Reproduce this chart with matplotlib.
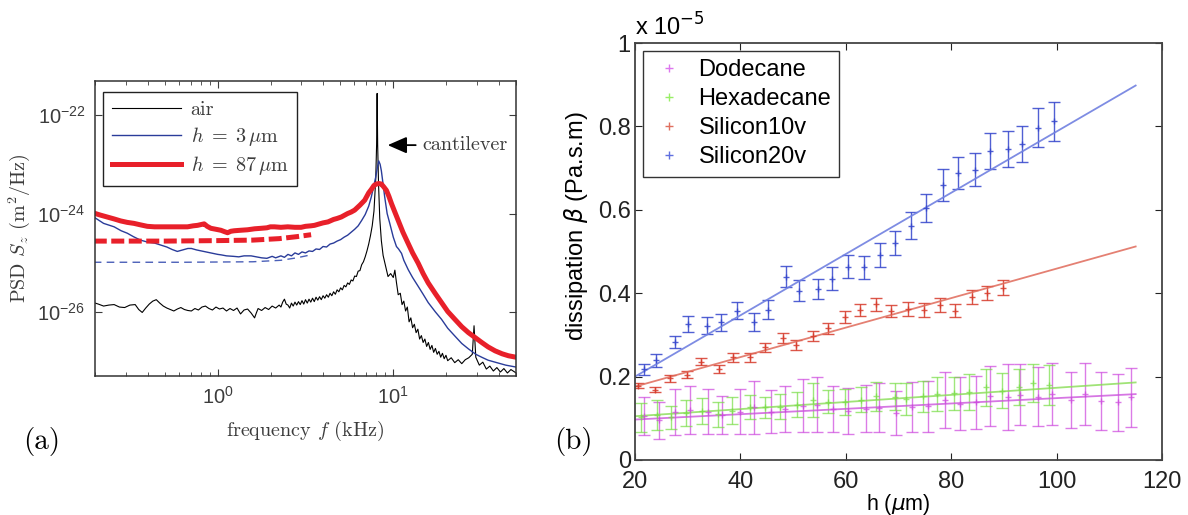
import numpy as np
import matplotlib.pyplot as plt
from matplotlib.lines import Line2D
from matplotlib.ticker import NullLocator, FixedLocator

plt.rcParams['mathtext.fontset'] = 'cm'
plt.rcParams['font.family'] = ['Liberation Sans', 'DejaVu Sans']

# ---------------- panel (a): PSD spectra, log10 values
# frequency in kHz (log10), PSD in m^2/Hz (log10)
air_logf = [-0.706, -0.68, -0.65, -0.62, -0.59, -0.56, -0.53, -0.50, -0.47, -0.45, -0.43, -0.41, -0.39,
            -0.37, -0.35, -0.33, -0.31, -0.29, -0.27, -0.25, -0.23, -0.21, -0.19, -0.17, -0.15, -0.13,
            -0.11, -0.09, -0.07, -0.05, -0.03, -0.01, 0.01, 0.03, 0.05, 0.07, 0.09, 0.11, 0.13, 0.15,
            0.17, 0.19, 0.21, 0.22, 0.23, 0.25, 0.27, 0.29, 0.31, 0.33, 0.35, 0.36, 0.37, 0.38, 0.39,
            0.40, 0.41, 0.42, 0.43, 0.44, 0.45, 0.46, 0.47, 0.48, 0.49, 0.50, 0.51, 0.52, 0.53, 0.54,
            0.55, 0.56, 0.57, 0.58, 0.59, 0.60, 0.61, 0.62, 0.63, 0.64, 0.65, 0.66, 0.67, 0.68, 0.69,
            0.70, 0.71, 0.72, 0.73, 0.74, 0.75, 0.76, 0.77, 0.78, 0.79, 0.80, 0.81, 0.82, 0.83, 0.84,
            0.85, 0.86, 0.87, 0.88, 0.89, 0.90, 0.905, 0.908, 0.911, 0.916, 0.923, 0.932, 0.942, 0.955,
            0.97, 0.985, 1.00, 1.009, 1.018, 1.028, 1.04, 1.05, 1.06, 1.07, 1.08, 1.09, 1.10, 1.11,
            1.12, 1.13, 1.14, 1.15, 1.16, 1.17, 1.18, 1.19, 1.20, 1.21, 1.22, 1.23, 1.24, 1.25, 1.26,
            1.27, 1.28, 1.29, 1.30, 1.31, 1.33, 1.35, 1.37, 1.39, 1.41, 1.43, 1.45, 1.46, 1.47, 1.49,
            1.51, 1.53, 1.55, 1.57, 1.59, 1.61, 1.63, 1.65, 1.67, 1.70]
air_logS = [-25.81, -25.84, -25.88, -25.86, -25.85, -25.90, -25.91, -25.86, -25.85, -25.95, -26.01, -25.92,
            -25.84, -25.78, -25.75, -25.82, -25.88, -25.92, -25.95, -25.98, -25.94, -25.91, -25.95, -25.97,
            -25.98, -25.93, -25.96, -25.90, -25.88, -25.93, -25.96, -25.90, -25.94, -25.92, -25.98, -25.93,
            -25.97, -25.92, -26.04, -25.96, -25.94, -26.02, -26.12, -26.02, -25.93, -25.97, -25.91, -25.95,
            -25.88, -25.92, -25.86, -25.90, -25.80, -25.74, -25.84,
            -25.86, -25.92, -25.82, -25.88, -25.80, -25.86, -25.79, -25.85, -25.77, -25.84, -25.75, -25.82,
            -25.74, -25.80, -25.72, -25.79, -25.70, -25.76, -25.69, -25.75, -25.67, -25.72, -25.65, -25.70,
            -25.62, -25.67, -25.59, -25.64, -25.55, -25.59, -25.51, -25.55, -25.46, -25.49, -25.41, -25.44,
            -25.35, -25.37, -25.27, -25.28, -25.17, -25.16, -25.04, -24.98, -24.88, -24.76, -24.62, -24.45,
            -24.25, -23.95, -23.30, -22.60, -21.56, -22.60, -23.40, -24.10, -24.55, -24.85, -25.05, -25.28,
            -25.22, -25.30, -25.15, -25.40, -25.65, -25.62, -25.85, -25.78, -25.98, -25.90, -26.20, -26.12,
            -26.32, -26.25, -26.42, -26.35, -26.55, -26.48, -26.62, -26.55, -26.70, -26.62, -26.76, -26.68,
            -26.82, -26.74, -26.86, -26.80, -26.92, -26.84, -26.95, -26.88, -26.99, -26.93, -27.03, -26.97,
            -27.05, -26.97, -26.93, -26.86, -26.28, -26.92, -27.08, -27.02, -27.16, -27.10, -27.20, -27.13,
            -27.22, -27.15, -27.24, -27.17, -27.24]

h3_logf = [-0.706, -0.65, -0.59, -0.55, -0.515, -0.48, -0.44, -0.40, -0.36, -0.325, -0.29, -0.26, -0.23,
           -0.20, -0.17, -0.15, -0.12, -0.08, -0.04, 0.00, 0.02, 0.05, 0.09, 0.12, 0.15, 0.19, 0.22, 0.25,
           0.28, 0.31, 0.33, 0.36, 0.38, 0.40, 0.42, 0.44, 0.46, 0.48, 0.50, 0.52, 0.54, 0.56, 0.58, 0.60,
           0.62, 0.64, 0.66, 0.68, 0.70, 0.72, 0.74, 0.76, 0.78, 0.80, 0.82, 0.84, 0.86, 0.875, 0.89, 0.90,
           0.91, 0.917, 0.925, 0.932, 0.94, 0.951, 0.965, 0.98, 1.00, 1.018, 1.03, 1.047, 1.06, 1.085, 1.11,
           1.142, 1.17, 1.199, 1.24, 1.275, 1.31, 1.351, 1.39, 1.428, 1.47, 1.504, 1.54, 1.58, 1.64, 1.70]
h3_logS = [-24.07, -24.20, -24.27, -24.35, -24.40, -24.47, -24.54, -24.58, -24.60, -24.64, -24.68, -24.73,
           -24.77, -24.74, -24.71, -24.71, -24.74, -24.77, -24.80, -24.83, -24.84, -24.86, -24.87, -24.88,
           -24.86, -24.86, -24.88, -24.90, -24.91, -24.87, -24.90, -24.86, -24.89, -24.83, -24.86, -24.80,
           -24.83, -24.78, -24.80, -24.76, -24.77, -24.72, -24.73, -24.67, -24.68, -24.62, -24.60, -24.56,
           -24.53, -24.48, -24.44, -24.38, -24.32, -24.25, -24.14, -24.02, -23.85, -23.66, -23.42, -23.26,
           -23.05, -22.93, -23.00, -23.13, -23.35, -23.66, -24.00, -24.20, -24.48, -24.67, -24.72, -24.81,
           -24.95, -25.14, -25.30, -25.48, -25.64, -25.81, -26.00, -26.15, -26.33, -26.49, -26.64, -26.75,
           -26.86, -26.92, -26.98, -27.02, -27.08, -27.12]

h87_logf = [-0.706, -0.67, -0.63, -0.59, -0.553, -0.515, -0.477, -0.44, -0.401, -0.36, -0.325, -0.29,
            -0.249, -0.21, -0.172, -0.14, -0.115, -0.09, -0.077, -0.06, -0.039, -0.01, 0.018, 0.04, 0.056,
            0.075, 0.094, 0.13, 0.17, 0.21, 0.247, 0.28, 0.30, 0.323, 0.36, 0.399, 0.44, 0.475, 0.50, 0.53,
            0.551, 0.58, 0.60, 0.628, 0.66, 0.68, 0.704, 0.74, 0.76, 0.78, 0.81, 0.837, 0.86, 0.875, 0.89,
            0.904, 0.918, 0.932, 0.946, 0.961, 0.975, 0.99, 1.01, 1.028, 1.055, 1.085, 1.11, 1.142, 1.17,
            1.199, 1.24, 1.275, 1.31, 1.351, 1.39, 1.428, 1.47, 1.504, 1.54, 1.58, 1.62, 1.656, 1.70]
h87_logS = [-23.99, -24.03, -24.07, -24.11, -24.15, -24.18, -24.20, -24.23, -24.26, -24.27, -24.27, -24.27,
            -24.27, -24.27, -24.27, -24.25, -24.24, -24.22, -24.21, -24.26, -24.30, -24.32, -24.34, -24.37,
            -24.39, -24.36, -24.35, -24.34, -24.33, -24.31, -24.30, -24.29, -24.27, -24.27, -24.28, -24.27,
            -24.28, -24.28, -24.26, -24.25, -24.24, -24.21, -24.19, -24.17, -24.12, -24.10, -24.07, -24.00,
            -23.97, -23.93, -23.83, -23.73, -23.58, -23.51, -23.43, -23.40, -23.39, -23.40, -23.46, -23.53,
            -23.65, -23.80, -23.98, -24.14, -24.38, -24.61, -24.80, -25.01, -25.22, -25.41, -25.63, -25.81,
            -25.99, -26.15, -26.30, -26.42, -26.53, -26.62, -26.71, -26.79, -26.85, -26.89, -26.92]

# flat model levels (dashed)
fit87_logf = [-0.706, -0.3, 0.0, 0.2, 0.35, 0.45, 0.532]
fit87_logS = [-24.56, -24.56, -24.55, -24.54, -24.51, -24.47, -24.43]
fit3_logf = [-0.706, -0.2, 0.2, 0.36, 0.45, 0.53]
fit3_logS = [-24.99, -24.99, -24.98, -24.95, -24.90, -24.84]

# ---------------- panel (b): dissipation vs h (units of 1e-5 Pa.s.m)
dod_h = [21.8, 24.6, 27.6, 30.5, 33.8, 36.5, 39.9, 42.5, 45.8, 48.5, 51.9, 54.5, 57.6, 60.5, 63.9, 66.3,
         69.6, 72.5, 75.6, 78.8, 81.6, 84.7, 87.4, 90.7, 93.1, 96.5, 99.2, 102.7, 105.4, 108.4, 111.7, 114.2]
dod_b = [0.106, 0.095, 0.115, 0.120, 0.116, 0.108, 0.116, 0.126, 0.116, 0.123, 0.130, 0.133, 0.123, 0.117,
         0.123, 0.125, 0.113, 0.126, 0.129, 0.144, 0.135, 0.138, 0.154, 0.152, 0.157, 0.152, 0.158, 0.144,
         0.158, 0.141, 0.138, 0.150]
dod_err = [0.046, 0.045, 0.055, 0.058, 0.054, 0.046, 0.054, 0.064, 0.052, 0.055, 0.064, 0.065, 0.055, 0.055,
           0.057, 0.059, 0.053, 0.060, 0.061, 0.068, 0.063, 0.064, 0.072, 0.079, 0.073, 0.070, 0.074, 0.068,
           0.074, 0.069, 0.068, 0.070]

hex_h = [21.1, 24.2, 26.9, 29.7, 32.7, 35.7, 38.5, 41.8, 44.7, 47.5, 50.7, 53.8, 56.7, 59.8, 62.9, 65.8,
         69.3, 71.5, 74.6, 77.4, 80.6, 83.4, 86.6, 89.6, 92.9, 95.6, 98.6]
hex_b = [0.102, 0.108, 0.102, 0.113, 0.117, 0.110, 0.118, 0.127, 0.126, 0.128, 0.133, 0.143, 0.140, 0.140,
         0.144, 0.153, 0.152, 0.146, 0.153, 0.158, 0.160, 0.163, 0.174, 0.166, 0.175, 0.185, 0.180]
hex_err = [0.034, 0.036, 0.028, 0.031, 0.031, 0.030, 0.032, 0.029, 0.026, 0.030, 0.031, 0.041, 0.028, 0.031,
           0.030, 0.035, 0.032, 0.038, 0.037, 0.040, 0.040, 0.043, 0.044, 0.042, 0.043, 0.045, 0.048]

si10_h = [20.6, 23.8, 26.7, 29.9, 32.5, 36.0, 38.6, 41.9, 44.7, 48.0, 50.6, 53.8, 56.6, 59.9, 62.7, 65.8,
          68.6, 71.8, 74.8, 77.9, 80.8, 84.0, 86.7, 89.8]
si10_b = [0.178, 0.169, 0.196, 0.205, 0.236, 0.218, 0.246, 0.246, 0.270, 0.292, 0.275, 0.297, 0.316, 0.343,
          0.360, 0.373, 0.357, 0.362, 0.360, 0.371, 0.358, 0.390, 0.400, 0.413]
si10_err = [0.006, 0.007, 0.008, 0.008, 0.009, 0.009, 0.010, 0.010, 0.011, 0.012, 0.012, 0.012, 0.013, 0.014,
            0.015, 0.015, 0.015, 0.016, 0.016, 0.017, 0.016, 0.017, 0.017, 0.018]

si20_h = [21.7, 24.0, 27.6, 30.1, 33.6, 36.3, 39.4, 42.5, 45.2, 48.6, 51.2, 54.7, 57.3, 60.5, 63.4, 66.5,
          69.4, 72.4, 75.3, 78.5, 81.2, 84.6, 87.4, 90.7, 93.5, 96.5, 99.6]
si20_b = [0.218, 0.239, 0.283, 0.326, 0.322, 0.330, 0.358, 0.331, 0.360, 0.440, 0.406, 0.410, 0.435, 0.464,
          0.462, 0.492, 0.520, 0.562, 0.605, 0.660, 0.689, 0.696, 0.742, 0.746, 0.758, 0.797, 0.812]
si20_err = [0.013, 0.015, 0.015, 0.020, 0.020, 0.020, 0.021, 0.021, 0.023, 0.025, 0.025, 0.025, 0.027, 0.028,
            0.027, 0.029, 0.029, 0.032, 0.034, 0.038, 0.038, 0.040, 0.043, 0.043, 0.044, 0.046, 0.047]

# straight-line fits (end points)
fit_h = [20, 115]
dod_fit = [0.097, 0.158]
hex_fit = [0.105, 0.186]
si10_fit = [0.176, 0.512]
si20_fit = [0.200, 0.898]

y_ticks = [0, 0.2, 0.4, 0.6, 0.8, 1]
y_ticklabels = ['0', '0.2', '0.4', '0.6', '0.8', '1']
x_ticks = [20, 40, 60, 80, 100, 120]


def p10(v):
    return 10 ** np.asarray(v)


fig = plt.figure(figsize=(11.88, 5.15), dpi=100)
W, H = 1188, 515

# ---------------- (a)
gray = '#3c3c3c'
ax1 = fig.add_axes([95 / W, 1 - 376 / H, 421 / W, 295.3 / H])
ax1.plot(p10(air_logf), p10(air_logS), color='black', lw=0.8, label='air')
ax1.plot(p10(h3_logf), p10(h3_logS), color='#2a3c9a', lw=1.0, label=r'$h\;=\;3\,\mu$m')
ax1.plot(p10(h87_logf), p10(h87_logS), color='#e8202a', lw=3.6, label=r'$h\;=\;87\,\mu$m')
ax1.plot(p10(fit87_logf), p10(fit87_logS), color='#e8202a', lw=3.6, dashes=(2.6, 0.9))
ax1.plot(p10(fit3_logf), p10(fit3_logS), color='#4a5fb8', lw=1.0, dashes=(5.5, 3.8))

ax1.set_xscale('log')
ax1.set_yscale('log')
ax1.set_xlim(0.2, 50)
ax1.set_ylim(5e-28, 5e-22)
ax1.yaxis.set_major_locator(FixedLocator([1e-26, 1e-24, 1e-22]))
ax1.yaxis.set_minor_locator(NullLocator())
ax1.tick_params(which='both', direction='in', top=True, right=True, colors=gray, labelsize=14.5)
ax1.tick_params(which='major', length=5, pad=7)
ax1.tick_params(which='minor', length=3)
for s in ax1.spines.values():
    s.set_color('#333333')
    s.set_linewidth(1.1)

ax1.set_xlabel(r'frequency $f$ (kHz)', family='cmr10', fontsize=14.5, color=gray)
ax1.set_ylabel(r'PSD $S_z$ (m$^2$/Hz)', family='cmr10', fontsize=14.5, color=gray)
ax1.xaxis.set_label_coords(0.5, -0.145)
ax1.yaxis.set_label_coords(-0.150, 0.5)

leg1 = ax1.legend(loc='upper left', bbox_to_anchor=(0.019, 0.962), borderaxespad=0,
                  prop={'family': 'cmr10', 'size': 14.5}, handlelength=3.4, handletextpad=0.5,
                  fancybox=False, edgecolor='#222222', framealpha=1, labelspacing=0.3,
                  borderpad=0.45)
leg1.get_frame().set_linewidth(1.0)
for t in leg1.get_texts():
    t.set_color(gray)

ax1.annotate('cantilever', xy=(9.3, 10 ** -22.61), xytext=(14.7, 10 ** -22.61),
             va='center', ha='left', family='cmr10', fontsize=14.5, color=gray,
             arrowprops=dict(arrowstyle='-|>,head_length=0.8,head_width=0.35', color='black',
                             lw=1.3, shrinkA=3, shrinkB=0))

# ---------------- (b)
ax2 = fig.add_axes([635 / W, 1 - 460 / H, 527 / W, 417 / H])
ebkw = dict(fmt='+', markersize=5, elinewidth=1.0, capsize=4, capthick=1.0, mew=1.0)
ax2.errorbar(dod_h, dod_b, yerr=dod_err, color='#cc44dd', alpha=0.7, **ebkw)
ax2.errorbar(hex_h, hex_b, yerr=hex_err, color='#77dd44', alpha=0.7, **ebkw)
ax2.errorbar(si10_h, si10_b, yerr=si10_err, color='#d63a2a', alpha=0.85, **ebkw)
ax2.errorbar(si20_h, si20_b, yerr=si20_err, color='#3344cc', alpha=0.85, **ebkw)
ax2.plot(fit_h, dod_fit, color='#cc55dd', lw=1.3, alpha=0.8)
ax2.plot(fit_h, hex_fit, color='#88dd55', lw=1.3, alpha=0.8)
ax2.plot(fit_h, si10_fit, color='#e06a5a', lw=1.3, alpha=0.85)
ax2.plot(fit_h, si20_fit, color='#7080e0', lw=1.3, alpha=0.9)

ax2.set_xlim(20, 120)
ax2.set_ylim(0, 1)
ax2.set_xticks(x_ticks)
ax2.set_yticks(y_ticks)
ax2.set_yticklabels(y_ticklabels)
ax2.tick_params(direction='in', top=True, right=True, length=5, labelsize=17, colors='#222222')
ax2.tick_params(axis='y', pad=3)
ax2.tick_params(axis='x', pad=8)
for s in ax2.spines.values():
    s.set_color('#444444')
    s.set_linewidth(1.3)

ax2.set_xlabel(r'h ($\mu$m)', fontsize=15.5, math_fontfamily='dejavusans')
ax2.set_ylabel(r'dissipation $\beta$ (Pa.s.m)', fontsize=17, math_fontfamily='dejavusans')
ax2.xaxis.set_label_coords(0.5, -0.076)
ax2.yaxis.set_label_coords(-0.086, 0.561)
ax2.text(0.0, 1.006, r'x 10$^{-5}$', transform=ax2.transAxes, ha='left', va='bottom',
         fontsize=17, math_fontfamily='dejavusans')

handles = [Line2D([], [], ls='none', marker='+', color=c, markersize=6)
           for c in ['#dd77ee', '#99ee66', '#e07060', '#6070e0']]
leg2 = ax2.legend(handles, ['Dodecane', 'Hexadecane', 'Silicon10v', 'Silicon20v'],
                  loc='upper left', bbox_to_anchor=(0.015, 0.981), borderaxespad=0,
                  fontsize=17, handlelength=1.5, handletextpad=0.5, labelspacing=0.3,
                  borderpad=0.35, fancybox=False, edgecolor='#333333', framealpha=1)
leg2.get_frame().set_linewidth(1.0)

# panel letters
fig.text(42 / W, 1 - 441 / H, '(a)', family='cmr10', fontsize=21, ha='center', va='center')
fig.text(573 / W, 1 - 441 / H, '(b)', family='cmr10', fontsize=21, ha='center', va='center')

fig.savefig('out.png', dpi=100)
